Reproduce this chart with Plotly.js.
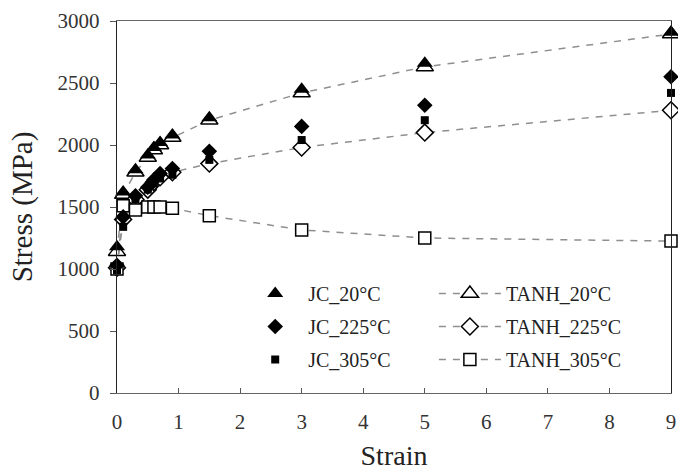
<!DOCTYPE html>
<html>
<head>
<meta charset="utf-8">
<script src="https://cdn.plot.ly/plotly-3.0.1.min.js"></script>
<style>html,body{margin:0;padding:0;background:#fff;}#chart{width:678px;height:471px;}</style>
</head>
<body>
<div id="chart"></div>
<script>
const strain = [0, 0.1, 0.3, 0.5, 0.6, 0.7, 0.9, 1.5, 3, 5, 9];
const jc20   = [1180, 1620, 1800, 1920, 1980, 2020, 2080, 2220, 2450, 2660, 2910];
const tanh20 = [1140, 1600, 1780, 1900, 1960, 2000, 2060, 2200, 2420, 2630, 2895];
const jc225  = [1030, 1420, 1590, 1660, 1720, 1770, 1810, 1950, 2150, 2320, 2550];
const tanh225= [1010, 1400, 1560, 1640, 1700, 1740, 1780, 1850, 1980, 2100, 2280];
const jc305  = [990, 1340, 1560, 1640, 1690, 1730, 1760, 1880, 2040, 2200, 2420];
const tanh305= [1000, 1510, 1475, 1500, 1500, 1500, 1490, 1430, 1315, 1250, 1225];

const xTicks = [0,1,2,3,4,5,6,7,8,9];
const yTicks = [0,500,1000,1500,2000,2500,3000];

const serif = 'Liberation Serif';
const dashLine = {color: '#8f8f8f', width: 1.5, dash: '7px,7px'};

function jc(name, y, sym, size) {
  return {x: strain, y: y, name: name, type: 'scatter', mode: 'markers', cliponaxis: false,
    legendgroup: name,
    marker: {symbol: sym, size: size, color: '#000'}, legend: 'legend'};
}
function th(name, y, sym, size) {
  return {x: strain, y: y, name: name, type: 'scatter', mode: 'lines+markers', cliponaxis: false,
    legendgroup: name,
    line: dashLine,
    marker: {symbol: sym, size: size, color: '#fff', line: {color: '#000', width: 1.5}}, legend: 'legend2'};
}

const data = [
  th('TANH_20°C', tanh20, 'triangle-up', 15),
  th('TANH_225°C', tanh225, 'diamond', 13),
  th('TANH_305°C', tanh305, 'square', 12),
  jc('JC_20°C', jc20, 'triangle-up', 14),
  jc('JC_225°C', jc225, 'diamond', 12),
  jc('JC_305°C', jc305, 'square', 8)
];

const legendBase = {
  font: {family: serif, size: 20, color: '#222'},
  bgcolor: 'rgba(0,0,0,0)', borderwidth: 0,
  tracegroupgap: 4, yanchor: 'top', traceorder: 'grouped'
};

const layout = {
  width: 678, height: 471,
  margin: {l: 117, r: 7, t: 21, b: 78},
  paper_bgcolor: '#fff', plot_bgcolor: '#fff',
  showlegend: true,
  legend: Object.assign({}, legendBase, {x: 0.226, y: 0.32, xanchor: 'left', itemwidth: 56}),
  legend2: Object.assign({}, legendBase, {x: 0.572, y: 0.32, xanchor: 'left', itemwidth: 62}),
  xaxis: {
    range: [0, 9], tickvals: xTicks, ticktext: xTicks.map(String),
    ticks: 'inside', ticklen: 5, tickcolor: '#555', ticklabelstandoff: 10,
    showgrid: false, zeroline: false,
    showline: true, linecolor: '#666', linewidth: 1.2, mirror: true,
    tickfont: {family: serif, size: 21, color: '#333'},
    title: {text: 'Strain', font: {family: serif, size: 28, color: '#222'}, standoff: 12}
  },
  yaxis: {
    range: [0, 3000], tickvals: yTicks, ticktext: yTicks.map(String),
    ticks: 'outside', ticklen: 6, tickcolor: '#555', ticklabelstandoff: 6,
    showgrid: false, zeroline: false,
    showline: true, linecolor: '#222', linewidth: 1.2, mirror: true,
    tickfont: {family: serif, size: 21, color: '#333'},
    title: {text: 'Stress (MPa)', font: {family: serif, size: 29, color: '#222'}, standoff: 16}
  }
};

Plotly.newPlot('chart', data, layout, {displayModeBar: false, staticPlot: true});
</script>
</body>
</html>
